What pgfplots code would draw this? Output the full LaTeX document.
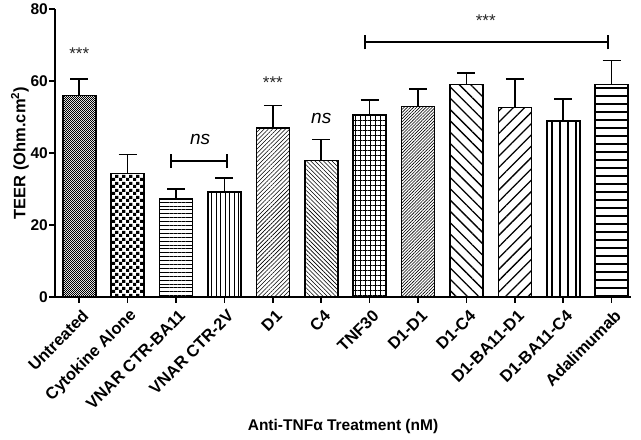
\documentclass[border=0pt]{standalone}
\usepackage{pgfplots}
\pgfplotsset{compat=1.18}
\usepackage{fontspec}
\setmainfont{Liberation Sans}
\usetikzlibrary{patterns,patterns.meta}
\pgfdeclarepatternformonly{finecheck}{\pgfpointorigin}{\pgfqpoint{2.4pt}{2.4pt}}{\pgfqpoint{2.4pt}{2.4pt}}{%
  \pgfpathrectangle{\pgfpointorigin}{\pgfqpoint{1.2pt}{1.2pt}}%
  \pgfpathrectangle{\pgfqpoint{1.2pt}{1.2pt}}{\pgfqpoint{1.2pt}{1.2pt}}%
  \pgfusepath{fill}}
\pgfdeclarepatternformonly{coarsecheck}{\pgfpointorigin}{\pgfqpoint{7pt}{7pt}}{\pgfqpoint{7pt}{7pt}}{%
  \pgfpathrectangle{\pgfpointorigin}{\pgfqpoint{3.5pt}{3.5pt}}%
  \pgfpathrectangle{\pgfqpoint{3.5pt}{3.5pt}}{\pgfqpoint{3.5pt}{3.5pt}}%
  \pgfusepath{fill}}
\begin{document}
\begin{tikzpicture}
\begin{axis}[
  scale only axis,
  width=576pt, height=288pt,
  xmin=-0.5, xmax=11.4, ymin=0, ymax=80,
  axis lines*=left,
  axis line style={line width=1.6pt},
  every tick/.style={line width=1.5pt,black},
  tick align=outside,
  major tick length=6pt,
  xtick={0,...,11},
  xticklabels={Untreated,Cytokine Alone,VNAR CTR-BA11,VNAR CTR-2V,D1,C4,TNF30,D1-D1,D1-C4,D1-BA11-D1,D1-BA11-C4,Adalimumab},
  xticklabel style={rotate=45, anchor=east, inner sep=0pt, font=\bfseries\fontsize{16.5}{18}\selectfont, xshift=-2.6pt, yshift=-11.6pt},
  ytick={0,20,40,60,80},
  yticklabel style={font=\bfseries\fontsize{15.5}{16}\selectfont, inner sep=1pt},
  /pgf/number format/assume math mode=true,
  ylabel={\bfseries TEER (Ohm.cm\textsuperscript{2})},
  ylabel style={font=\fontsize{16.5}{18}\selectfont, at={(axis description cs:0,0.5)}, anchor=center, yshift=35pt},
  xlabel={\bfseries Anti-TNFα Treatment (nM)},
  xlabel style={font=\fontsize{15.5}{17}\selectfont, at={(axis description cs:0.5,0)}, anchor=center, yshift=-130pt},
  clip=false,
  every axis plot/.append style={ybar, bar width=33pt, bar shift=0pt, draw=black, line width=1.6pt,
    error bars/y dir=plus, error bars/y explicit,
    error bars/error bar style={line width=1.6pt,black},
    error bars/error mark options={line width=1.6pt, mark size=9pt, black, rotate=90}},
]
\addplot[pattern=finecheck] coordinates {(0,56) +- (0,4.6)};
\addplot[pattern=coarsecheck] coordinates {(1,34.3) +- (0,5.3)};
\addplot[pattern={Lines[angle=0,distance=3.9pt,line width=0.8pt]}] coordinates {(2,27.2) +- (0,2.8)};
\addplot[pattern={Lines[angle=90,distance=4.5pt,line width=0.7pt]}] coordinates {(3,29.1) +- (0,4.0)};
\addplot[pattern={Lines[angle=45,distance=3pt,line width=0.6pt]}] coordinates {(4,46.9) +- (0,6.3)};
\addplot[pattern={Lines[angle=-45,distance=3pt,line width=0.6pt]}] coordinates {(5,37.9) +- (0,5.8)};
\addplot[pattern={Hatch[angle=0,distance=5pt,line width=0.7pt]}] coordinates {(6,50.6) +- (0,4.2)};
\addplot[pattern={Lines[angle=45,distance=2.2pt,line width=0.6pt]}] coordinates {(7,52.9) +- (0,4.9)};
\addplot[pattern={Lines[angle=-45,distance=8pt,line width=1.3pt]}] coordinates {(8,59) +- (0,3.2)};
\addplot[pattern={Lines[angle=45,distance=8pt,line width=1.3pt]}] coordinates {(9,52.6) +- (0,7.9)};
\addplot[pattern={Lines[angle=90,distance=8pt,line width=1.6pt]}] coordinates {(10,48.9) +- (0,6.1)};
\addplot[pattern={Lines[angle=0,distance=8pt,line width=1.6pt]}] coordinates {(11,59) +- (0,6.7)};
% annotations
\node[font=\fontsize{17}{17}\selectfont, text=black!85] at (axis cs:0,67.5) {***};
\node[font=\fontsize{17}{17}\selectfont, text=black!85] at (axis cs:4,59.5) {***};
\node[font=\itshape\fontsize{19}{19}\selectfont] at (axis cs:5,49.5) {ns};
\node[font=\itshape\fontsize{19}{19}\selectfont] at (axis cs:2.5,43.8) {ns};
\draw[line width=1.6pt] (axis cs:1.9,37.8) -- (axis cs:3.05,37.8);
\draw[line width=1.6pt] (axis cs:1.9,35.8) -- (axis cs:1.9,39.8);
\draw[line width=1.6pt] (axis cs:3.05,35.8) -- (axis cs:3.05,39.8);
\draw[line width=1.6pt] (axis cs:5.9,70.8) -- (axis cs:10.93,70.8);
\draw[line width=1.6pt] (axis cs:5.9,68.8) -- (axis cs:5.9,72.8);
\draw[line width=1.6pt] (axis cs:10.93,68.8) -- (axis cs:10.93,72.8);
\node[font=\fontsize{17}{17}\selectfont, text=black!85] at (axis cs:8.4,76.8) {***};
\end{axis}
\pgfresetboundingbox
\path ([xshift=-55pt,yshift=-143pt]current axis.south west) rectangle ([xshift=10pt,yshift=9pt]current axis.north east);
\end{tikzpicture}
\end{document}
